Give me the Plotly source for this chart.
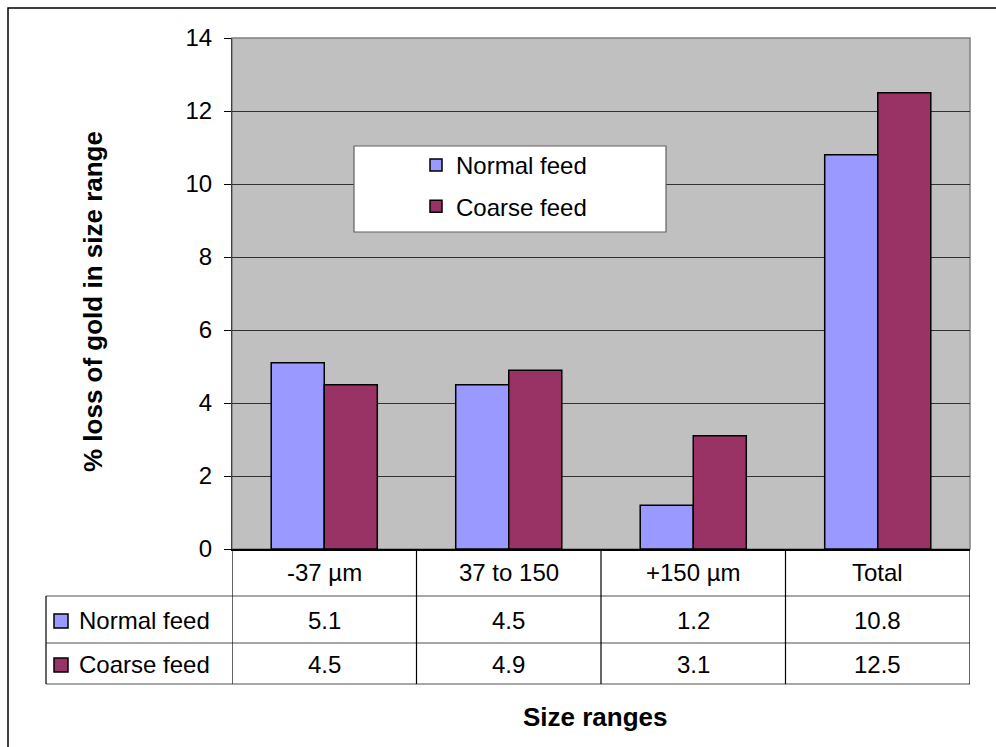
import plotly.graph_objects as go

# Gold loss by particle size range, normal vs coarse feed
categories = ["-37 µm", "37 to 150", "+150 µm", "Total"]
normal_feed = [5.1, 4.5, 1.2, 10.8]
coarse_feed = [4.5, 4.9, 3.1, 12.5]
series_names = ["Normal feed", "Coarse feed"]
series_colors = ["#9999FF", "#993366"]
y_ticks = [0, 2, 4, 6, 8, 10, 12, 14]

W, H = 996, 747
PL, PR, PT, PB = 232, 970, 38, 549  # plot area in pixels


def px_x(p):
    return (p - PL) / (PR - PL)


def px_y(p):
    return (PB - p) / (PB - PT)


FONT = "Liberation Sans, Arial, sans-serif"
FS = 24      # regular text size
FS_B = 26    # bold title size

fig = go.Figure()
for name, vals, col in zip(series_names, [normal_feed, coarse_feed], series_colors):
    fig.add_trace(go.Bar(
        x=categories, y=vals, name=name, legendgroup=name,
        marker=dict(color=col, line=dict(color="black", width=1.5)),
    ))

shapes = []
annotations = []

# outer chart frame
shapes.append(dict(type="rect", xref="paper", yref="paper",
                   x0=px_x(8), x1=px_x(1010), y0=px_y(760), y1=px_y(8),
                   line=dict(color="black", width=1.5), layer="below"))

# plot-area border
shapes.append(dict(type="rect", xref="paper", yref="paper",
                   x0=0, x1=1, y0=0, y1=1,
                   line=dict(color="#808080", width=1.5), layer="below"))

# legend box
shapes.append(dict(type="rect", xref="paper", yref="paper",
                   x0=px_x(354), x1=px_x(666), y0=px_y(232), y1=px_y(146),
                   fillcolor="white", line=dict(color="#606060", width=1.2),
                   layer="above"))

# data table grid
row_lines = [596, 643, 684]
for ry in row_lines:
    shapes.append(dict(type="line", xref="paper", yref="paper",
                       x0=px_x(46), x1=1, y0=px_y(ry), y1=px_y(ry),
                       line=dict(color="#505050", width=1.2)))
for i in range(len(categories) + 1):
    shapes.append(dict(type="line", xref="x", yref="paper",
                       x0=i - 0.5, x1=i - 0.5, y0=px_y(549), y1=px_y(684),
                       line=dict(color="black", width=1.2)))
shapes.append(dict(type="line", xref="paper", yref="paper",
                   x0=px_x(46), x1=px_x(46), y0=px_y(596), y1=px_y(684),
                   line=dict(color="black", width=1.2)))

# table header (category names)
for c in categories:
    annotations.append(dict(x=c, y=px_y(572), xref="x", yref="paper",
                            text=c, showarrow=False, xanchor="center", yanchor="middle",
                            font=dict(size=FS, color="black", family=FONT)))

# table rows: key, label and values
row_centers = [620, 664]
for name, vals, col, rc in zip(series_names, [normal_feed, coarse_feed], series_colors, row_centers):
    shapes.append(dict(type="rect", xref="paper", yref="paper",
                       x0=px_x(54), x1=px_x(68), y0=px_y(rc + 8), y1=px_y(rc - 6),
                       fillcolor=col, line=dict(color="black", width=1.5)))
    annotations.append(dict(x=px_x(77), y=px_y(rc), xref="paper", yref="paper",
                            text=name, showarrow=False, xanchor="left", yanchor="middle",
                            font=dict(size=FS, color="black", family=FONT)))
    for c, v in zip(categories, vals):
        annotations.append(dict(x=c, y=px_y(rc), xref="x", yref="paper",
                                text=f"{v:.1f}", showarrow=False,
                                xanchor="center", yanchor="middle",
                                font=dict(size=FS, color="black", family=FONT)))

# axis titles
annotations.append(dict(x=px_x(93), y=px_y(302), xref="paper", yref="paper",
                        text="<b>% loss of gold in size range</b>", textangle=-90,
                        showarrow=False, xanchor="center", yanchor="middle",
                        font=dict(size=FS_B, color="black", family=FONT)))
annotations.append(dict(x=px_x(595), y=px_y(717), xref="paper", yref="paper",
                        text="<b>Size ranges</b>", showarrow=False,
                        xanchor="center", yanchor="middle",
                        font=dict(size=FS_B, color="black", family=FONT)))

fig.update_layout(
    width=W, height=H,
    margin=dict(l=PL, r=W - PR, t=PT, b=H - PB, pad=0),
    paper_bgcolor="white",
    plot_bgcolor="#C0C0C0",
    barmode="group", bargap=0.425, bargroupgap=0,
    font=dict(family=FONT, size=FS, color="black"),
    showlegend=True,
    legend=dict(x=px_x(416), y=px_y(143), xanchor="left", yanchor="top",
                bgcolor="rgba(0,0,0,0)", borderwidth=0,
                traceorder="grouped", tracegroupgap=7,
                font=dict(size=FS, color="black", family=FONT)),
    xaxis=dict(type="category", range=[-0.5, len(categories) - 0.5],
               showticklabels=False, ticks="", showgrid=False,
               showline=True, linecolor="black", linewidth=2, zeroline=False),
    yaxis=dict(range=[0, 14], tickvals=y_ticks, ticks="outside", ticklen=7,
               tickcolor="black", tickwidth=1, ticklabelstandoff=7,
               showline=True, linecolor="#404040", linewidth=1,
               showgrid=True, gridcolor="#303030", gridwidth=1, zeroline=False,
               tickfont=dict(size=FS, color="black", family=FONT)),
    shapes=shapes,
    annotations=annotations,
)

fig.write_html("out.html")
